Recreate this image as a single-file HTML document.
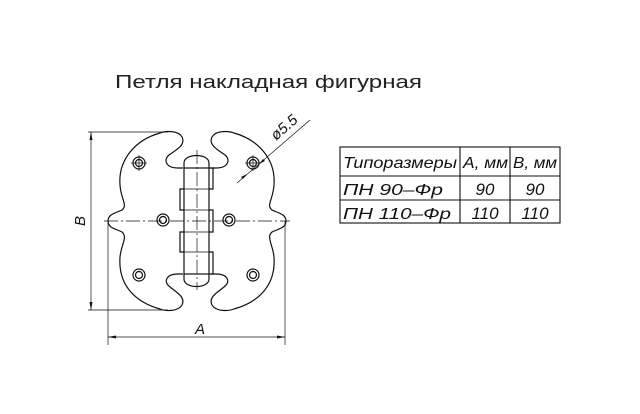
<!DOCTYPE html>
<html><head><meta charset="utf-8"><style>body{margin:0;background:#fff}svg{display:block}</style></head>
<body>
<svg width="640" height="414" viewBox="0 0 640 414" xmlns="http://www.w3.org/2000/svg" font-family="Liberation Sans, DejaVu Sans, sans-serif">
<rect width="640" height="414" fill="#fff"/>
<text x="115" y="88" font-size="18" textLength="307" lengthAdjust="spacingAndGlyphs" fill="#222">Петля  накладная  фигурная</text>
<g fill="none" stroke="#111" stroke-width="1.2">
<path id="lf" d="M183,168 L178,168 C166,168 163,160 169,155 C176,150 186,145 182,137 C178,130 165,131 160,133 C135,140 118,160 120,185 C121,200 128,205 122,210 C116,213 108,214 108,221 C108,228 116,229 122,232 C128,237 121,245 120,257 C118,285 135,302 160,309 C165,311 178,312 182,305 C186,297 176,292 170,287 C163,282 166,274 178,274 L183,274"/>
<use href="#lf" transform="translate(394,0) scale(-1,1)"/>
<path d="M184,168 L184,163 C184,153 209,153 209,163 L209,168"/>
<path d="M184,274 L184,279 C184,289 209,289 209,279 L209,274"/>
<rect x="184" y="168" width="25" height="106"/>
<path d="M184,189 L180,189 L180,210 L184,210 M184,232 L180,232 L180,252 L184,252"/>
<path d="M209,168 L213,168 L213,189 L209,189 M209,210 L213,210 L213,232 L209,232 M209,252 L213,252 L213,274 L209,274"/>
<path d="M184,189 H209 M184,210 H209 M184,232 H209 M184,252 H209" stroke-width="0.8"/>
<g>
<circle cx="139" cy="163" r="6"/><circle cx="139" cy="163" r="3.5"/>
<circle cx="253" cy="163" r="6"/><circle cx="253" cy="163" r="3.5"/>
<circle cx="163" cy="220" r="6"/><circle cx="163" cy="220" r="3.5"/>
<circle cx="229" cy="220" r="6"/><circle cx="229" cy="220" r="3.5"/>
<circle cx="139" cy="275" r="6"/><circle cx="139" cy="275" r="3.5"/>
<circle cx="253" cy="275" r="6"/><circle cx="253" cy="275" r="3.5"/>
</g>
</g>
<g stroke="#111" stroke-width="0.7" fill="none">
<path d="M104,221 H290" stroke-dasharray="14,3,2,3"/>
<path d="M197,150 V290" stroke-dasharray="14,3,2,3"/>
<path d="M139,155 V171 M131,163 H147 M253,155 V171 M245,163 H261" />
<path d="M88,132 H168 M88,310 H168"/>
<path d="M91,132 V310"/>
<path d="M108,221 V345 M285,221 V345"/>
<path d="M108,337 H285"/>
<path d="M237,183 L310,120"/>
</g>
<g fill="#111">
<path d="M91,132 L89.5,140 L92.5,140Z M91,310 L89.5,302 L92.5,302Z"/>
<path d="M108,337 L116,335.5 L116,338.5Z M285,337 L277,335.5 L277,338.5Z"/>
<path d="M247,174 L241,177 L243,179Z M259,164 L265,161 L263,159Z"/>
</g>
<text x="200" y="334" font-size="15" font-style="italic" text-anchor="middle" fill="#111">A</text>
<text transform="translate(85,221) rotate(-90)" font-size="15" font-style="italic" text-anchor="middle" fill="#111">B</text>
<text transform="translate(276,141) rotate(-41)" font-size="15" font-style="italic" fill="#111">ø5.5</text>
<g stroke="#111" stroke-width="1.1" fill="none">
<rect x="340" y="147" width="220" height="76"/>
<path d="M340,176 H560 M340,200 H560 M460,147 V223 M510,147 V223"/>
</g>
<g font-size="16" font-style="italic" fill="#111">
<text x="343" y="168" textLength="114" lengthAdjust="spacingAndGlyphs">Типоразмеры</text>
<text x="463" y="168" textLength="45" lengthAdjust="spacingAndGlyphs">A, мм</text>
<text x="513" y="168" textLength="44" lengthAdjust="spacingAndGlyphs">B, мм</text>
<text x="343" y="195" textLength="100" lengthAdjust="spacingAndGlyphs">ПН  90–Фр</text>
<text x="485" y="195" text-anchor="middle" font-size="17">90</text>
<text x="535" y="195" text-anchor="middle" font-size="17">90</text>
<text x="343" y="219" textLength="108" lengthAdjust="spacingAndGlyphs">ПН  110–Фр</text>
<text x="485" y="219" text-anchor="middle" font-size="17">110</text>
<text x="535" y="219" text-anchor="middle" font-size="17">110</text>
</g>
</svg>
</body></html>
